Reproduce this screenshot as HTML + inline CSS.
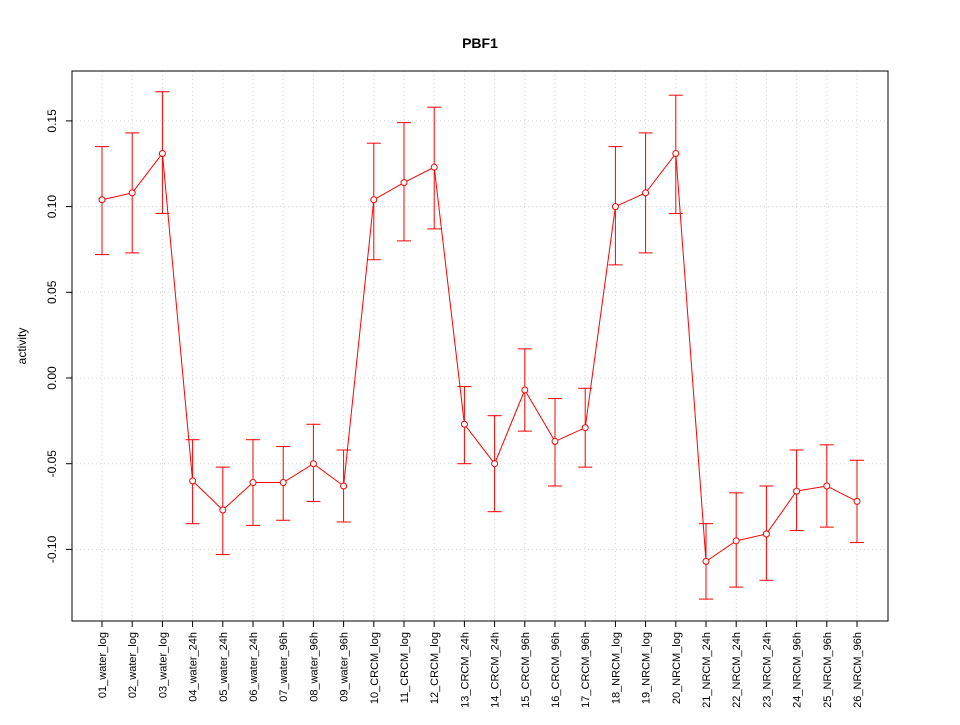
<!DOCTYPE html>
<html><head><meta charset="utf-8"><style>
body{margin:0;background:#fff}
svg{font-family:"Liberation Sans",sans-serif}
</style></head><body>
<svg id="chart" width="960" height="720" viewBox="0 0 960 720"></svg>
<script>
const categories=["01_water_log","02_water_log","03_water_log","04_water_24h","05_water_24h","06_water_24h","07_water_96h","08_water_96h","09_water_96h","10_CRCM_log","11_CRCM_log","12_CRCM_log","13_CRCM_24h","14_CRCM_24h","15_CRCM_96h","16_CRCM_96h","17_CRCM_96h","18_NRCM_log","19_NRCM_log","20_NRCM_log","21_NRCM_24h","22_NRCM_24h","23_NRCM_24h","24_NRCM_96h","25_NRCM_96h","26_NRCM_96h"];
const means=[0.104,0.108,0.131,-0.060,-0.077,-0.061,-0.061,-0.050,-0.063,0.104,0.114,0.123,-0.027,-0.050,-0.007,-0.037,-0.029,0.100,0.108,0.131,-0.107,-0.095,-0.091,-0.066,-0.063,-0.072];
const upper=[0.135,0.143,0.167,-0.036,-0.052,-0.036,-0.040,-0.027,-0.042,0.137,0.149,0.158,-0.005,-0.022,0.017,-0.012,-0.006,0.135,0.143,0.165,-0.085,-0.067,-0.063,-0.042,-0.039,-0.048];
const lower=[0.072,0.073,0.096,-0.085,-0.103,-0.086,-0.083,-0.072,-0.084,0.069,0.080,0.087,-0.050,-0.078,-0.031,-0.063,-0.052,0.066,0.073,0.096,-0.129,-0.122,-0.118,-0.089,-0.087,-0.096];
const yTicks=[-0.10,-0.05,0.00,0.05,0.10,0.15];
const yTickLabels=["-0.10","-0.05","0.00","0.05","0.10","0.15"];
const NS="http://www.w3.org/2000/svg";
const svg=document.getElementById('chart');
const L=72,R=888,T=71,B=621;
const x=i=>102+i*(857-102)/(categories.length-1);
const y=v=>378-v*1714;
function mk(tag,attrs,parent){const e=document.createElementNS(NS,tag);for(const k in attrs)e.setAttribute(k,attrs[k]);(parent||svg).appendChild(e);return e;}
let t=mk('text',{x:480,y:48,'text-anchor':'middle','font-size':14,'font-weight':'bold'});t.textContent='PBF1';


const grid=mk('g',{stroke:'#d3d3d3','stroke-dasharray':'1,3','stroke-width':1});


categories.forEach((c,i)=>mk('line',{x1:x(i),x2:x(i),y1:T,y2:B},grid));
yTicks.forEach(v=>mk('line',{x1:L,x2:R,y1:y(v),y2:y(v)},grid));
const frame=mk('rect',{x:L,y:T,width:R-L,height:B-T,fill:'none',stroke:'#000'});


const ya=mk('g',{});


yTicks.forEach((v,i)=>{mk('line',{x1:L,x2:L-6,y1:y(v),y2:y(v),stroke:'#000'},ya);
const tx=mk('text',{x:56,y:y(v),'font-size':12,'text-anchor':'middle',transform:`rotate(-90 56 ${y(v)})`},ya);tx.textContent=yTickLabels[i];});
const yt=mk('text',{x:26,y:346,'font-size':12,'text-anchor':'middle',transform:'rotate(-90 26 346)'});yt.textContent='activity';


const xa=mk('g',{});


categories.forEach((c,i)=>{mk('line',{x1:x(i),x2:x(i),y1:B,y2:B+6,stroke:'#000'},xa);
const tx=mk('text',{x:x(i)+4,y:632,'font-size':11,'text-anchor':'end',transform:`rotate(-90 ${x(i)+4} 632)`},xa);tx.textContent=c;});
const ser=mk('g',{stroke:'#ff0000',fill:'none'});


mk('polyline',{points:means.map((v,i)=>x(i)+','+y(v)).join(' ')},ser);
means.forEach((v,i)=>{
const g=mk('g',{},ser);


mk('line',{x1:x(i),x2:x(i),y1:y(upper[i]),y2:y(lower[i])},g);
mk('line',{x1:x(i)-7,x2:x(i)+7,y1:y(upper[i]),y2:y(upper[i])},g);
mk('line',{x1:x(i)-7,x2:x(i)+7,y1:y(lower[i]),y2:y(lower[i])},g);
const p=mk('circle',{cx:x(i),cy:y(v),r:3,fill:'#fff'},ser);


});
</script>
</body></html>
